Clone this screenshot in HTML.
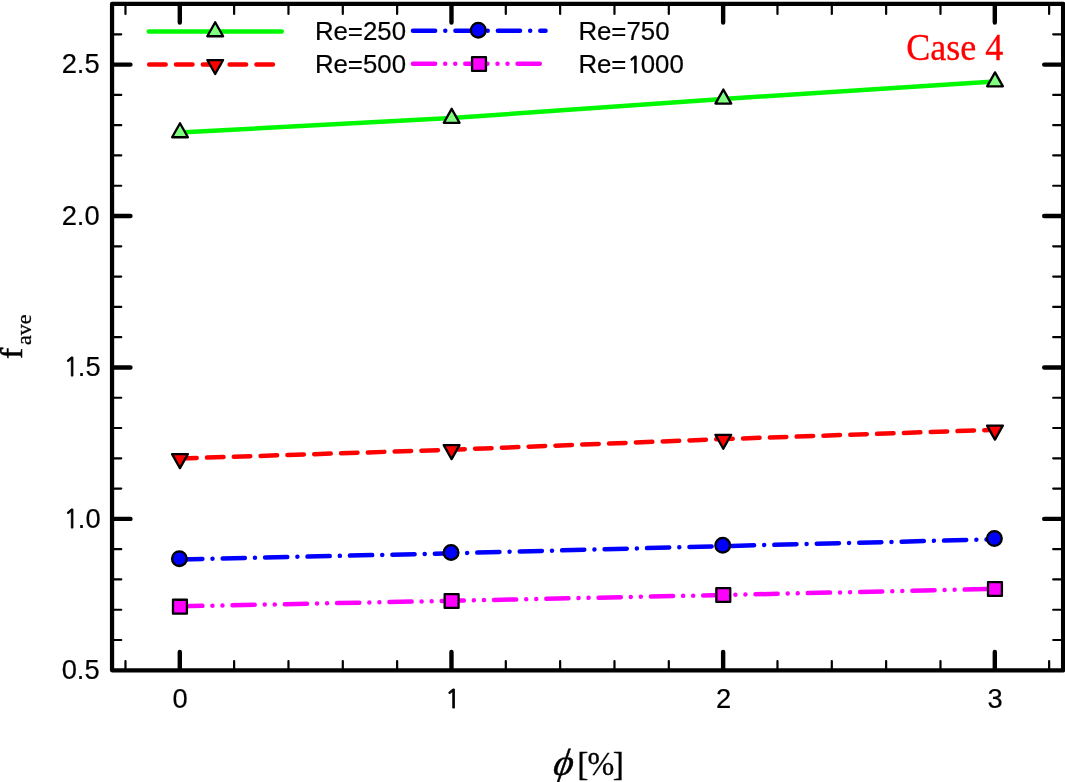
<!DOCTYPE html>
<html lang="en"><head><meta charset="utf-8"><title>f_ave vs phi - Case 4</title>
<style>
html,body{margin:0;padding:0;background:#fff;}
body{width:1065px;height:782px;overflow:hidden;}
svg{display:block;}
</style></head><body>
<svg width="1065" height="782" viewBox="0 0 1065 782">
<rect x="0" y="0" width="1065" height="782" fill="#fff"/>
<g stroke="#000" stroke-linecap="round" fill="none">
<path d="M179.80 669.30v-17.4M179.80 5.03v17.4M451.47 669.30v-17.4M451.47 5.03v17.4M723.14 669.30v-17.4M723.14 5.03v17.4M994.81 669.30v-17.4M994.81 5.03v17.4M113.05 518.88h17.4M1062.10 518.88h-17.90M113.05 367.45h17.4M1062.10 367.45h-17.90M113.05 216.02h17.4M1062.10 216.02h-17.90M113.05 64.60h17.4M1062.10 64.60h-17.90" stroke-width="4.4"/>
<path d="M125.47 669.30v-8.2M125.47 5.03v8.90M234.13 669.30v-8.2M234.13 5.03v8.90M288.47 669.30v-8.2M288.47 5.03v8.90M342.80 669.30v-8.2M342.80 5.03v8.90M397.14 669.30v-8.2M397.14 5.03v8.90M505.80 669.30v-8.2M505.80 5.03v8.90M560.14 669.30v-8.2M560.14 5.03v8.90M614.47 669.30v-8.2M614.47 5.03v8.90M668.81 669.30v-8.2M668.81 5.03v8.90M777.47 669.30v-8.2M777.47 5.03v8.90M831.81 669.30v-8.2M831.81 5.03v8.90M886.14 669.30v-8.2M886.14 5.03v8.90M940.48 669.30v-8.2M940.48 5.03v8.90M1049.14 669.30v-8.2M1049.14 5.03v8.90M113.05 640.01h8.2M1062.10 640.01h-8.90M113.05 609.73h8.2M1062.10 609.73h-8.90M113.05 579.44h8.2M1062.10 579.44h-8.90M113.05 549.16h8.2M1062.10 549.16h-8.90M113.05 488.59h8.2M1062.10 488.59h-8.90M113.05 458.30h8.2M1062.10 458.30h-8.90M113.05 428.02h8.2M1062.10 428.02h-8.90M113.05 397.73h8.2M1062.10 397.73h-8.90M113.05 337.16h8.2M1062.10 337.16h-8.90M113.05 306.88h8.2M1062.10 306.88h-8.90M113.05 276.59h8.2M1062.10 276.59h-8.90M113.05 246.31h8.2M1062.10 246.31h-8.90M113.05 185.74h8.2M1062.10 185.74h-8.90M113.05 155.45h8.2M1062.10 155.45h-8.90M113.05 125.17h8.2M1062.10 125.17h-8.90M113.05 94.88h8.2M1062.10 94.88h-8.90M113.05 34.31h8.2M1062.10 34.31h-8.90" stroke-width="2.2"/>
</g>
<rect x="112.05" y="3.75" width="951.05" height="666.55" fill="none" stroke="#000" stroke-width="4.25" stroke-linejoin="round"/>
<g font-family="'Liberation Sans', Arial, Helvetica, sans-serif" font-size="27.3" fill="#000" stroke="#000" stroke-width="0.2">
<text x="99.6" y="679.10" text-anchor="end">0.5</text>
<text x="99.6" y="527.67" text-anchor="end"><tspan dx="1" font-family="NanumGothic, 'Liberation Sans', sans-serif" font-size="24.98" stroke-width="0.85">1</tspan><tspan dx="-1">.0</tspan></text>
<text x="99.6" y="376.25" text-anchor="end"><tspan dx="1" font-family="NanumGothic, 'Liberation Sans', sans-serif" font-size="24.98" stroke-width="0.85">1</tspan><tspan dx="-1">.5</tspan></text>
<text x="99.6" y="224.82" text-anchor="end">2.0</text>
<text x="99.6" y="73.40" text-anchor="end">2.5</text>
<text x="180.20" y="707.7" text-anchor="middle">0</text>
<text x="451.87" y="707.7" text-anchor="middle"><tspan dx="1" font-family="NanumGothic, 'Liberation Sans', sans-serif" font-size="24.98" stroke-width="0.85">1</tspan></text>
<text x="723.54" y="707.7" text-anchor="middle">2</text>
<text x="995.21" y="707.7" text-anchor="middle">3</text>
</g>
<polyline points="179.80,132.50 451.47,118.00 723.14,98.90 994.81,81.60" fill="none" stroke="#00f800" stroke-width="4.5" stroke-linecap="round" stroke-linejoin="round"/>
<line x1="148.75" y1="31.6" x2="281.75" y2="31.6" stroke="#00f800" stroke-width="4.5" stroke-linecap="round"/>
<path d="M180.00 123.27L187.90 137.27L172.10 137.27Z" fill="#80ff80" stroke="#000" stroke-width="2.3" stroke-linejoin="round"/>
<path d="M451.67 108.82L459.57 122.82L443.77 122.82Z" fill="#80ff80" stroke="#000" stroke-width="2.3" stroke-linejoin="round"/>
<path d="M723.34 89.57L731.24 103.57L715.44 103.57Z" fill="#80ff80" stroke="#000" stroke-width="2.3" stroke-linejoin="round"/>
<path d="M995.01 72.37L1002.91 86.37L987.11 86.37Z" fill="#80ff80" stroke="#000" stroke-width="2.3" stroke-linejoin="round"/>
<path d="M215.20 22.27L223.10 36.27L207.30 36.27Z" fill="#80ff80" stroke="#000" stroke-width="2.3" stroke-linejoin="round"/>
<polyline points="179.80,458.50 451.47,449.70 723.14,439.10 994.81,429.80" fill="none" stroke="#ff0000" stroke-width="4.5" stroke-linecap="round" stroke-linejoin="round" stroke-dasharray="16.5 10.32" stroke-dashoffset="-0.4"/>
<line x1="148.75" y1="64.5" x2="281.75" y2="64.5" stroke="#ff0000" stroke-width="4.5" stroke-linecap="round" stroke-dasharray="16.5 10.32" stroke-dashoffset="-0.4"/>
<path d="M179.95 468.08L187.85 454.08L172.05 454.08Z" fill="#ff0000" stroke="#000" stroke-width="2.3" stroke-linejoin="round"/>
<path d="M451.62 459.08L459.52 445.08L443.72 445.08Z" fill="#ff0000" stroke="#000" stroke-width="2.3" stroke-linejoin="round"/>
<path d="M723.29 448.78L731.19 434.78L715.39 434.78Z" fill="#ff0000" stroke="#000" stroke-width="2.3" stroke-linejoin="round"/>
<path d="M994.96 439.58L1002.86 425.58L987.06 425.58Z" fill="#ff0000" stroke="#000" stroke-width="2.3" stroke-linejoin="round"/>
<path d="M215.20 74.03L223.10 60.03L207.30 60.03Z" fill="#ff0000" stroke="#000" stroke-width="2.3" stroke-linejoin="round"/>
<polyline points="179.80,559.50 451.47,553.30 723.14,546.10 994.81,539.30" fill="none" stroke="#0000ff" stroke-width="4.5" stroke-linecap="round" stroke-linejoin="round" stroke-dasharray="22.2 10.12 0.01 10.12" stroke-dashoffset="-0.4"/>
<line x1="412.55" y1="30.8" x2="545.55" y2="30.8" stroke="#0000ff" stroke-width="4.5" stroke-linecap="round" stroke-dasharray="22.2 10.12 0.01 10.12" stroke-dashoffset="-0.4"/>
<circle cx="179.38" cy="558.67" r="7.35" fill="#0000ff" stroke="#000" stroke-width="2.3" stroke-linejoin="round"/>
<circle cx="451.05" cy="552.45" r="7.35" fill="#0000ff" stroke="#000" stroke-width="2.3" stroke-linejoin="round"/>
<circle cx="722.72" cy="545.30" r="7.35" fill="#0000ff" stroke="#000" stroke-width="2.3" stroke-linejoin="round"/>
<circle cx="994.39" cy="538.50" r="7.35" fill="#0000ff" stroke="#000" stroke-width="2.3" stroke-linejoin="round"/>
<circle cx="478.30" cy="30.20" r="7.35" fill="#0000ff" stroke="#000" stroke-width="2.3" stroke-linejoin="round"/>
<polyline points="179.80,606.30 451.47,600.80 723.14,595.00 994.81,588.90" fill="none" stroke="#ff00ff" stroke-width="4.5" stroke-linecap="round" stroke-linejoin="round" stroke-dasharray="22.2 10.03 0.01 10.03 0.01 10.03" stroke-dashoffset="-0.4"/>
<line x1="412.55" y1="63.7" x2="545.55" y2="63.7" stroke="#ff00ff" stroke-width="4.5" stroke-linecap="round" stroke-dasharray="22.2 10.03 0.01 10.03 0.01 10.03" stroke-dashoffset="-0.4"/>
<rect x="173.00" y="599.75" width="13.9" height="13.9" fill="#ff00ff" stroke="#000" stroke-width="2.3" stroke-linejoin="round"/>
<rect x="444.67" y="594.05" width="13.9" height="13.9" fill="#ff00ff" stroke="#000" stroke-width="2.3" stroke-linejoin="round"/>
<rect x="716.34" y="588.05" width="13.9" height="13.9" fill="#ff00ff" stroke="#000" stroke-width="2.3" stroke-linejoin="round"/>
<rect x="988.01" y="582.05" width="13.9" height="13.9" fill="#ff00ff" stroke="#000" stroke-width="2.3" stroke-linejoin="round"/>
<rect x="472.05" y="57.05" width="13.9" height="13.9" fill="#ff00ff" stroke="#000" stroke-width="2.3" stroke-linejoin="round"/>
<g font-family="'Liberation Sans', Arial, Helvetica, sans-serif" font-size="25.8" fill="#000" stroke="#000" stroke-width="0.2">
<text x="314.9" y="40.3">Re=250</text>
<text x="314.9" y="73.4">Re=500</text>
<text x="578.4" y="40.3">Re=750</text>
<text x="578.4" y="73.4">Re=<tspan dx="1" font-family="NanumGothic, 'Liberation Sans', sans-serif" font-size="23.61" stroke-width="0.85">1</tspan><tspan dx="-1">000</tspan></text>
</g>
<text x="906.2" y="60.1" font-family="'Liberation Serif', 'Times New Roman', serif" font-size="37.2" textLength="97.2" lengthAdjust="spacingAndGlyphs" fill="#ff0000" stroke="#ff0000" stroke-width="0.3">Case 4</text>
<g transform="translate(22.4 359) rotate(-90)" stroke="#000" stroke-width="0.3" font-family="'Liberation Serif', 'Times New Roman', serif" fill="#000">
<text x="0" y="0" font-size="31" stroke-width="0.5" transform="scale(1.08 1)">f</text><text x="14" y="8.5" font-size="22">ave</text>
</g>
<g font-family="'Liberation Serif', 'Times New Roman', serif" fill="#000">
<text transform="translate(550.6 774.5) skewX(-19)" x="0" y="0" font-size="38" stroke="#000" stroke-width="0.5">ϕ</text>
<text x="577.2" y="775" font-size="33.5" stroke="#000" stroke-width="0.3">[</text>
<text x="587.5" y="774.6" font-size="33" textLength="26.8" lengthAdjust="spacingAndGlyphs" stroke="#000" stroke-width="0.3">%</text>
<text x="612.7" y="775" font-size="33.5" stroke="#000" stroke-width="0.3">]</text>
</g>
</svg>
</body></html>
